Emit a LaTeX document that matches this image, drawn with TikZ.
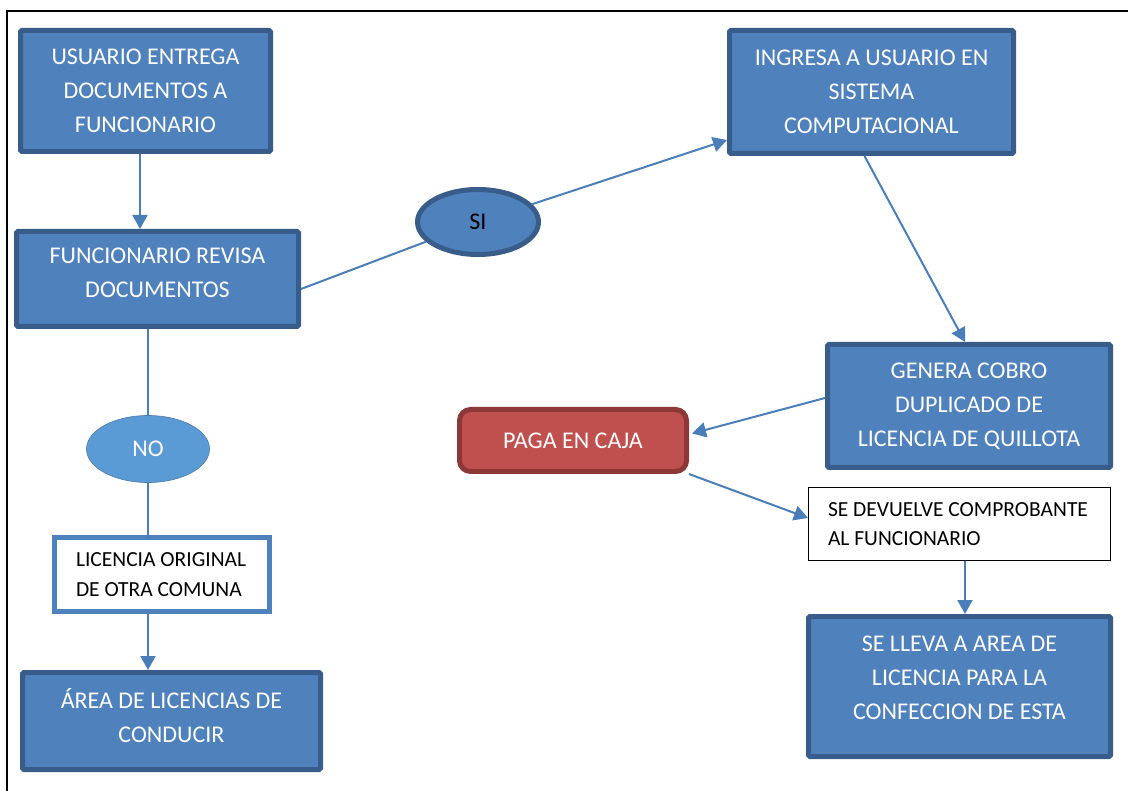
\documentclass[tikz,border=0pt]{standalone}
\usepackage{fontspec}
\setmainfont{Carlito}
\usetikzlibrary{arrows.meta,shapes}
\definecolor{boxfill}{HTML}{4F81BD}
\definecolor{boxline}{HTML}{385D8A}
\definecolor{nofill}{HTML}{5B9BD5}
\definecolor{cajafill}{HTML}{C0504D}
\definecolor{cajaline}{HTML}{8C3836}
\definecolor{link}{HTML}{4A7EBB}
\tikzset{
  blue box/.style={
    draw=boxline, fill=boxfill, line width=5pt, rounded corners=1.5pt,
    text=white, align=center, inner sep=0pt,
    font=\fontsize{24}{34}\selectfont
  },
  box text/.style={
    text=white, align=center, inner sep=0pt,
    font=\fontsize{24}{34}\selectfont
  },
  white box/.style={
    fill=white, align=flush left, inner sep=0pt, text=black,
    font=\fontsize{21.5}{29.5}\selectfont
  },
  answer/.style={
    ellipse, inner sep=0pt, font=\fontsize{24}{28}\selectfont
  },
  link/.style={draw=link, line width=2pt},
  arrow/.style={link, -{Triangle[length=14pt,width=15pt]}}
}
\begin{document}
\begin{tikzpicture}[x=1pt,y=-1pt]
    \useasboundingbox (0,0) rectangle (1128,791);
    \draw[line width=2pt] (7,791) -- (7,11) -- (1128,11);
    \node[blue box, minimum width=250pt, minimum height=121pt] (usuario) at (145.5,91)
      {USUARIO ENTREGA\\DOCUMENTOS A\\FUNCIONARIO};
    \node[blue box, minimum width=282pt, minimum height=95pt] (revisa) at (157.5,279) {};
    \node[box text] at ([yshift=6pt]revisa.center) {FUNCIONARIO REVISA\\DOCUMENTOS};
    \node[answer, fill=nofill, draw=nofill!80!black, line width=.6pt, text=white,
      minimum width=123pt, minimum height=67pt] (no) at (148,449) {NO};
    \node[white box, draw=boxfill, line width=5pt, minimum width=215pt, minimum height=74pt,
      text width=172pt] (original) at (162,574.5) {LICENCIA ORIGINAL\\DE OTRA COMUNA};
    \node[blue box, minimum width=298pt, minimum height=97pt] (area) at (171.5,721) {};
    \node[box text] at ([yshift=5pt]area.center) {ÁREA DE LICENCIAS DE\\CONDUCIR};
    \node[answer, fill=boxfill, draw=boxline, line width=5pt,
      minimum width=121pt, minimum height=65pt] (si) at (478,222) {SI};
    \node[blue box, minimum width=284pt, minimum height=123pt] (ingresa) at (871.5,92)
      {INGRESA A USUARIO EN\\SISTEMA\\COMPUTACIONAL};
    \node[blue box, minimum width=283pt, minimum height=123pt] (genera) at (969,406)
      {GENERA COBRO\\DUPLICADO DE\\LICENCIA DE QUILLOTA};
    \node[blue box, draw=cajaline, fill=cajafill, rounded corners=11pt,
      minimum width=227pt, minimum height=62pt] (caja) at (573,440.5) {PAGA EN CAJA};
    \node[white box, draw=black, line width=1pt, minimum width=302pt, minimum height=73pt,
      text width=263pt] (devuelve) at (959.5,524) {SE DEVUELVE COMPROBANTE\\AL FUNCIONARIO};
    \node[blue box, minimum width=302pt, minimum height=140pt] (lleva) at (959.5,686.5) {};
    \node[box text] at ([yshift=9pt]lleva.center) {SE LLEVA A AREA DE\\LICENCIA PARA LA\\CONFECCION DE ESTA};
    \draw[arrow] ([xshift=-5.5pt]usuario.south) -- ([xshift=-5.5pt]usuario.south |- revisa.north);
    \draw[link] ([yshift=-10pt]revisa.east) -- (si);
    \draw[arrow] (si) -- ([yshift=-48pt]ingresa.west);
    \draw[link] (no |- revisa.south) -- (no);
    \draw[link] (no) -- ([yshift=-5pt]no |- original.north);
    \draw[arrow] ([xshift=-14pt]original.south) -- ([xshift=-14pt]original.south |- area.north);
    \draw[arrow] ([xshift=-7pt]ingresa.south) -- ([xshift=-4pt]genera.north);
    \draw[arrow] ([yshift=8pt]genera.west) -- ([xshift=3pt,yshift=7pt]caja.east);
    \draw[arrow] (caja.south east) -- ([yshift=6pt]devuelve.west);
    \draw[arrow] ([xshift=5.5pt]devuelve.south) -- ([xshift=5.5pt]devuelve.south |- lleva.north);
\end{tikzpicture}
\end{document}
